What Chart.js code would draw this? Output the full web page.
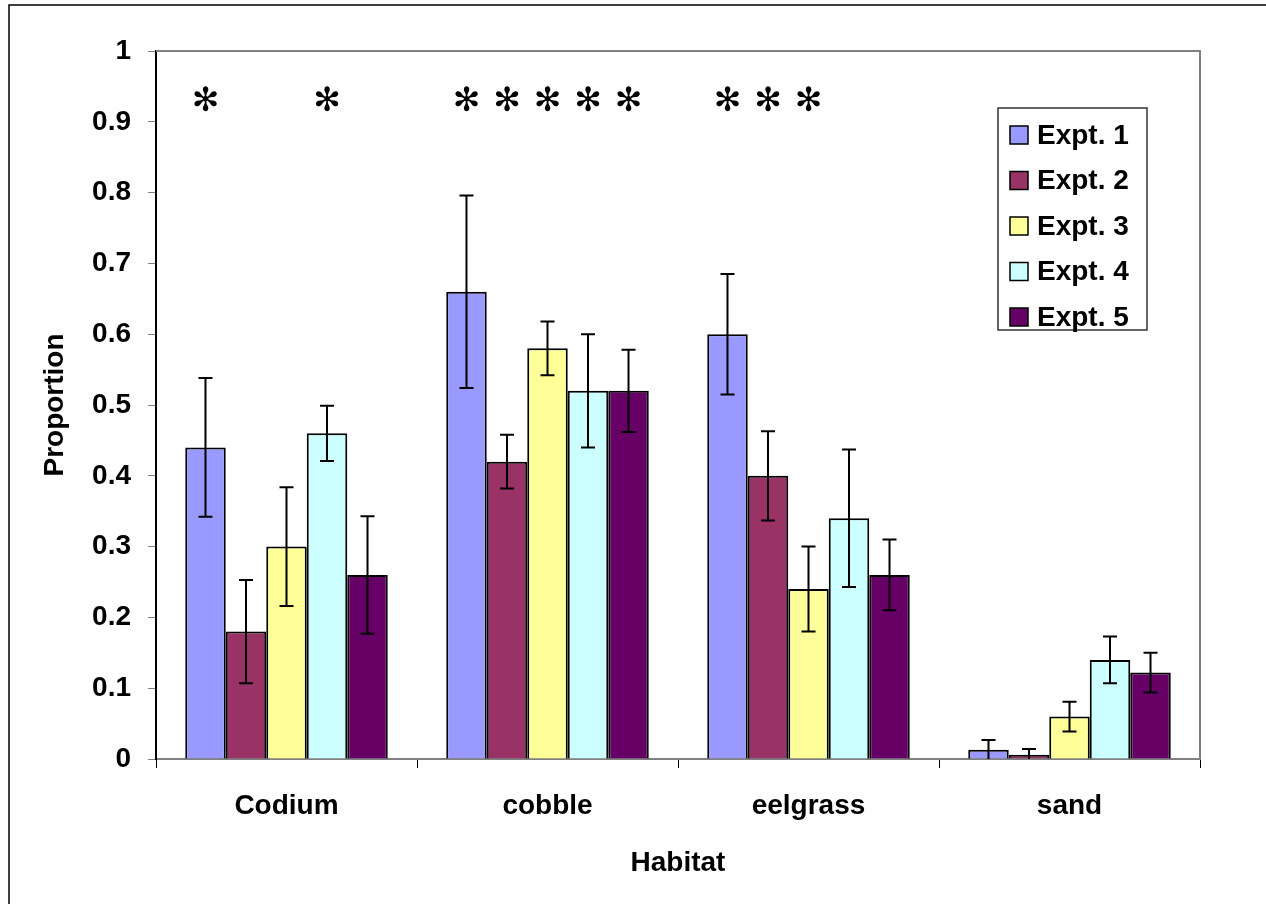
<!DOCTYPE html>
<html>
<head>
<meta charset="utf-8">
<script src="https://cdn.jsdelivr.net/npm/chart.js@4.4.0/dist/chart.umd.min.js"></script>
<style>
  html, body { margin: 0; padding: 0; background: #fff; }
  canvas { display: block; }
</style>
</head>
<body>
<canvas id="grafico" width="1266" height="904"></canvas>
<script>
// habitats and proportions
const habitats = ["Codium", "cobble", "eelgrass", "sand"];

const expt1 = [0.44, 0.66, 0.60, 0.013];
const expt2 = [0.18, 0.42, 0.40, 0.006];
const expt3 = [0.30, 0.58, 0.24, 0.06];
const expt4 = [0.46, 0.52, 0.34, 0.14];
const expt5 = [0.26, 0.52, 0.26, 0.122];

// error bar half-lengths
const expt1Err = [0.098, 0.136, 0.085, 0.014];
const expt2Err = [0.073, 0.038, 0.063, 0.008];
const expt3Err = [0.084, 0.038, 0.060, 0.021];
const expt4Err = [0.039, 0.080, 0.097, 0.033];
const expt5Err = [0.083, 0.058, 0.050, 0.028];

// asterisks above the bars (1 = significant)
const expt1Sig = [1, 1, 1, 0];
const expt2Sig = [0, 1, 1, 0];
const expt3Sig = [0, 1, 1, 0];
const expt4Sig = [1, 1, 0, 0];
const expt5Sig = [0, 1, 0, 0];

const yTicks = [0, 0.1, 0.2, 0.3, 0.4, 0.5, 0.6, 0.7, 0.8, 0.9, 1];

const FONTE = "'Liberation Sans', Arial, sans-serif";
const TAM = 28;

const series = [
    { label: "Expt. 1", data: expt1, err: expt1Err, sig: expt1Sig, cor: "#9999FF" },
    { label: "Expt. 2", data: expt2, err: expt2Err, sig: expt2Sig, cor: "#993366" },
    { label: "Expt. 3", data: expt3, err: expt3Err, sig: expt3Sig, cor: "#FFFF99" },
    { label: "Expt. 4", data: expt4, err: expt4Err, sig: expt4Sig, cor: "#CCFFFF" },
    { label: "Expt. 5", data: expt5, err: expt5Err, sig: expt5Sig, cor: "#660066" }
];

/* ------------------------------
   moldura externa e borda do plot
-------------------------------*/
const molduraPlugin = {
    id: "moldura",
    beforeDraw(chart) {
        const c = chart.ctx;
        c.save();
        c.fillStyle = "#fff";
        c.fillRect(0, 0, chart.width, chart.height);
        c.strokeStyle = "#000";
        c.lineWidth = 1.5;
        c.strokeRect(9, 5, chart.width + 20, chart.height + 20);
        c.restore();
    },
    afterDatasetsDraw(chart) {
        const c = chart.ctx;
        const a = chart.chartArea;
        c.save();
        c.strokeStyle = "#808080";
        c.lineWidth = 2;
        c.beginPath();
        c.moveTo(a.left, a.top);
        c.lineTo(a.right, a.top);
        c.lineTo(a.right, a.bottom);
        c.stroke();
        c.restore();
    }
};

/* ------------------------------
   barras de erro e asteriscos
-------------------------------*/
const errosPlugin = {
    id: "erros",
    afterDatasetsDraw(chart) {
        const c = chart.ctx;
        const y = chart.scales.y;
        c.save();
        c.strokeStyle = "#000";
        c.lineWidth = 2;
        series.forEach((s, i) => {
            const meta = chart.getDatasetMeta(i);
            meta.data.forEach((bar, j) => {
                const v = s.data[j], e = s.err[j];
                const yTop = y.getPixelForValue(v + e);
                const yBot = y.getPixelForValue(Math.max(0, v - e));
                c.beginPath();
                c.moveTo(bar.x, yTop); c.lineTo(bar.x, yBot);
                c.moveTo(bar.x - 7, yTop); c.lineTo(bar.x + 7, yTop);
                if (v - e > 0) { c.moveTo(bar.x - 7, yBot); c.lineTo(bar.x + 7, yBot); }
                c.stroke();

                if (s.sig[j]) {
                    c.fillStyle = "#000";
                    c.font = "33px 'DejaVu Sans'";
                    c.textAlign = "center";
                    c.textBaseline = "middle";
                    c.fillText("\u273B", bar.x, y.getPixelForValue(0.927));
                }
            });
        });
        c.restore();
    }
};

/* ------------------------------
   legenda dentro do plot
-------------------------------*/
const legendaPlugin = {
    id: "legenda",
    afterDraw(chart) {
        const c = chart.ctx;
        const x0 = 998, y0 = 108, w = 149, h = 222;
        c.save();
        c.fillStyle = "#fff";
        c.fillRect(x0, y0, w, h);
        c.strokeStyle = "#333";
        c.lineWidth = 1.5;
        c.strokeRect(x0, y0, w, h);
        c.font = "bold " + TAM + "px " + FONTE;
        c.textBaseline = "middle";
        c.textAlign = "left";
        chart.data.datasets.forEach((ds, i) => {
            const cy = 135 + i * 45.5;
            c.fillStyle = ds.backgroundColor;
            c.fillRect(1010, cy - 9, 18, 18);
            c.strokeStyle = "#000";
            c.lineWidth = 1.5;
            c.strokeRect(1010, cy - 9, 18, 18);
            c.fillStyle = "#000";
            c.fillText(ds.label, 1037, cy + 1);
        });
        c.restore();
    }
};

new Chart(document.getElementById("grafico"), {
    type: "bar",
    data: {
        labels: habitats,
        datasets: series.map(s => ({
            label: s.label,
            data: s.data,
            backgroundColor: s.cor,
            borderColor: "#000",
            borderWidth: 2,
            categoryPercentage: 0.776,
            barPercentage: 1
        }))
    },
    options: {
        responsive: false,
        animation: false,
        layout: { padding: { top: 51, right: 66, left: 0, bottom: 0 } },
        plugins: {
            legend: { display: false },
            tooltip: { enabled: false }
        },
        scales: {
            x: {
                grid: { drawOnChartArea: false, offset: true, tickLength: 9, color: "#000", tickColor: "#000" },
                border: { color: "#808080", width: 2 },
                ticks: { color: "#000", font: { family: FONTE, size: TAM, weight: "bold" }, padding: 21 },
                title: {
                    display: true, text: "Habitat", color: "#000",
                    font: { family: FONTE, size: TAM, weight: "bold" },
                    padding: { top: 20, bottom: 24 }
                },
                afterFit(scale) { scale.height = 904 - 759; }
            },
            y: {
                min: 0, max: 1,
                afterBuildTicks(scale) { scale.ticks = yTicks.map(v => ({ value: v })); },
                grid: { drawOnChartArea: false, tickLength: 8, tickColor: "#808080" },
                border: { color: "#000", width: 2 },
                ticks: {
                    color: "#000", padding: 17,
                    font: { family: FONTE, size: TAM, weight: "bold" },
                    callback: v => String(+v.toFixed(1))
                },
                title: {
                    display: true, text: "Proportion", color: "#000",
                    font: { family: FONTE, size: TAM, weight: "bold" },
                    padding: { top: 38, bottom: 0 }
                },
                afterFit(scale) { scale.width = 156; }
            }
        }
    },
    plugins: [molduraPlugin, errosPlugin, legendaPlugin]
});
</script>
</body>
</html>
